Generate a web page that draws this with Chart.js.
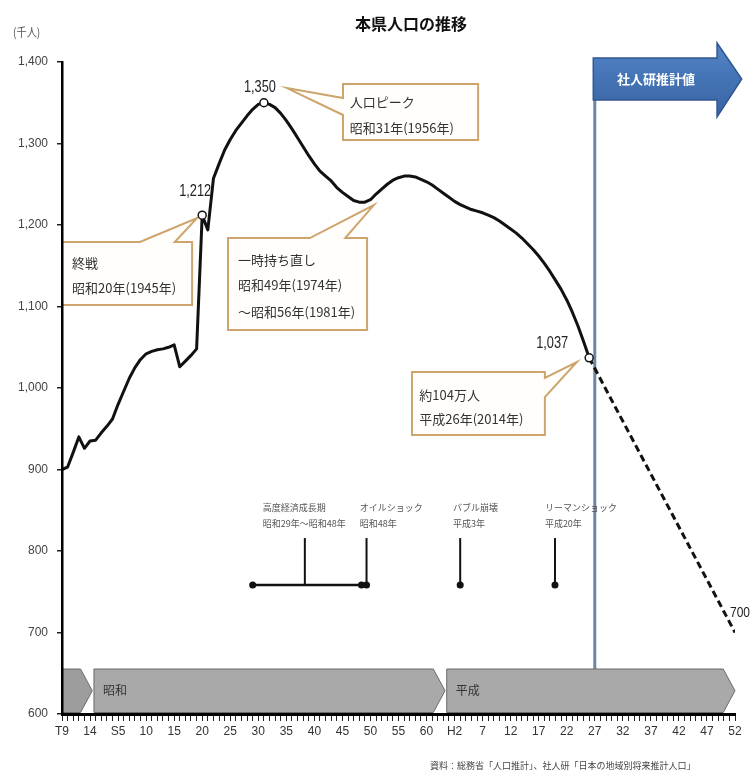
<!DOCTYPE html>
<html lang="ja">
<head>
<meta charset="utf-8">
<title>本県人口の推移</title>
<script src="https://cdn.jsdelivr.net/npm/chart.js@4/dist/chart.umd.min.js"></script>
<style>
  html, body { margin: 0; padding: 0; background: #fff; }
  #wrap { width: 751px; height: 774px; }
  canvas { display: block; background: #fff; }
</style>
</head>
<body>
<div id="wrap"><canvas id="chart" width="751" height="774"></canvas></div>
<script>
// ---------- data (thousand persons) ----------
const years = [
  1920, 1921, 1922, 1923, 1924, 1925, 1926, 1927, 1928, 1929,
  1930, 1931, 1932, 1933, 1934, 1935, 1936, 1937, 1938, 1939,
  1940, 1941, 1942, 1943, 1944, 1945, 1946, 1947, 1948, 1949,
  1950, 1951, 1952, 1953, 1954, 1955, 1956, 1957, 1958, 1959,
  1960, 1961, 1962, 1963, 1964, 1965, 1966, 1967, 1968, 1969,
  1970, 1971, 1972, 1973, 1974, 1975, 1976, 1977, 1978, 1979,
  1980, 1981, 1982, 1983, 1984, 1985, 1986, 1987, 1988, 1989,
  1990, 1991, 1992, 1993, 1994, 1995, 1996, 1997, 1998, 1999,
  2000, 2001, 2002, 2003, 2004, 2005, 2006, 2007, 2008, 2009,
  2010, 2011, 2012, 2013, 2014
];
const population = [
  900, 903, 921, 940, 926, 935, 936, 945, 953, 962,
  980, 996, 1012, 1025, 1035, 1042, 1045, 1047, 1048, 1050,
  1053, 1026, 1033, 1040, 1048, 1212, 1194, 1257, 1275, 1292,
  1305, 1316, 1325, 1334, 1342, 1348, 1350, 1348, 1344, 1337,
  1328, 1318, 1307, 1296, 1285, 1275, 1266, 1260, 1254, 1246,
  1240, 1235, 1230, 1228, 1228, 1231, 1238, 1244, 1250, 1255,
  1258, 1260, 1260, 1259, 1256, 1253, 1249, 1244, 1239, 1234,
  1229, 1225, 1222, 1219, 1217, 1215, 1212, 1209, 1205, 1200,
  1195, 1190, 1184, 1177, 1170, 1162, 1153, 1143, 1132, 1121,
  1108, 1093, 1076, 1057, 1037
];
// projection (社人研推計値)
const projectionYears  = [2014, 2040];
const projectionValues = [1037, 700];
// highlighted points
const markerYears  = [1945, 1956, 2014];
const markerValues = [1212, 1350, 1037];

// axis labels
const xTickLabels = ['T9','14','S5','10','15','20','25','30','35','40','45','50','55','60',
                     'H2','7','12','17','22','27','32','37','42','47','52'];
const yTickLabels = ['600','700','800','900','1,000','1,100','1,200','1,300','1,400'];

// era bands along the bottom
const eraNames = ['', '昭和', '平成'];
const eraStarts = [1920, 1925.7, 1988.6];
const eraEnds   = [1925.4, 1988.3, 2040];

// historical events
const eventTitles = ['高度経済成長期', 'オイルショック', 'バブル崩壊', 'リーマンショック'];
const eventDates  = ['昭和29年～昭和48年', '昭和48年', '平成3年', '平成20年'];
const eventStems  = [1963.3, 1974.3, 1991, 2007.9];
const growthPeriod = [1954, 1973.4];

const projectionStart = 2015;

// ---------- styling ----------
const NARROW = "'Liberation Sans Narrow', 'Liberation Sans', Arial, sans-serif";
const JP = "'Noto Sans CJK JP', 'Noto Sans', sans-serif";

// callout boxes: box [x1, yTop, x2, yBottom] in axis units, pointer from one side to a tip
const callouts = [
  { box: [1970.1, 1373, 1994.2, 1304.3], side: 'left', base: [1355.8, 1335], tip: [1960.1, 1368],
    lines: ['人口ピーク', '昭和31年(1956年)'], tx: 1971.3, ty: [1350.9, 1319] },
  { box: [1920, 1179.1, 1943.2, 1101.8], side: 'top', base: [1933.9, 1940.1], tip: [1944.1, 1208.6],
    lines: ['終戦', '昭和20年(1945年)'], tx: 1921.8, ty: [1153.4, 1122.7] },
  { box: [1949.6, 1184, 1974.4, 1071.2], side: 'top', base: [1964.2, 1970.5], tip: [1975.6, 1224.5],
    lines: ['一時持ち直し', '昭和49年(1974年)', '～昭和56年(1981年)'], tx: 1951.4, ty: [1157, 1126.4, 1093.3] },
  { box: [1982.4, 1019.6, 2006.1, 942.3], side: 'right', base: [1012.3, 988.9], tip: [2011.8, 1031.9],
    lines: ['約104万人', '平成26年(2014年)'], tx: 1983.7, ty: [991.4, 962] }
];

function text(ctx, s, x, y, font, color, align, sx) {
  ctx.save();
  ctx.font = font;
  ctx.fillStyle = color;
  ctx.textAlign = align || 'left';
  ctx.textBaseline = 'middle';
  ctx.translate(x, y);
  ctx.scale(sx || 1, 1);
  ctx.fillText(s, 0, 0);
  ctx.restore();
}

const fmt = v => v.toLocaleString('en-US');

const decor = {
  id: 'decor',
  beforeDatasetsDraw(chart) {
    const ctx = chart.ctx;
    const X = v => chart.scales.x.getPixelForValue(v);
    const Y = v => chart.scales.y.getPixelForValue(v);

    // projection divider line
    const xs = X(projectionStart);
    ctx.save();
    ctx.strokeStyle = '#6d86a5';
    ctx.lineWidth = 3;
    ctx.beginPath();
    ctx.moveTo(xs, Y(1380));
    ctx.lineTo(xs, Y(600));
    ctx.stroke();
    ctx.restore();

    // projection arrow
    const bodyTop = Y(1404.9), bodyBot = Y(1353.4);
    const headTop = Y(1423.3), headBot = Y(1332.5);
    const headX = X(2036.8), tipX = X(2041.2), tipY = (bodyTop + bodyBot) / 2;
    ctx.save();
    const g = ctx.createLinearGradient(0, headTop, 0, headBot);
    g.addColorStop(0, '#5585c6');
    g.addColorStop(0.5, '#4473b5');
    g.addColorStop(1, '#3963a2');
    ctx.fillStyle = g;
    ctx.strokeStyle = '#2f5790';
    ctx.lineWidth = 1.5;
    ctx.beginPath();
    ctx.moveTo(xs - 1.5, bodyTop);
    ctx.lineTo(headX, bodyTop);
    ctx.lineTo(headX, headTop);
    ctx.lineTo(tipX, tipY);
    ctx.lineTo(headX, headBot);
    ctx.lineTo(headX, bodyBot);
    ctx.lineTo(xs - 1.5, bodyBot);
    ctx.closePath();
    ctx.fill();
    ctx.stroke();
    ctx.restore();
    text(ctx, '社人研推計値', (xs + headX) / 2, tipY, 'bold 13px ' + JP, '#ffffff', 'center');

    // era bands
    const bTop = Y(655.2), bBot = Y(600) - 1.5, bMid = (bTop + bBot) / 2;
    for (let i = 0; i < eraNames.length; i++) {
      const l = X(eraStarts[i]), tip = X(eraEnds[i]);
      const corner = tip - (bBot - bTop) * 0.27;
      ctx.save();
      ctx.fillStyle = i === 0 ? '#9d9d9d' : '#a9a9a9';
      ctx.strokeStyle = '#6b6b6b';
      ctx.lineWidth = 1;
      ctx.beginPath();
      ctx.moveTo(l, bTop);
      ctx.lineTo(corner, bTop);
      ctx.lineTo(tip, bMid);
      ctx.lineTo(corner, bBot);
      ctx.lineTo(l, bBot);
      ctx.closePath();
      ctx.fill();
      ctx.stroke();
      ctx.restore();
      if (eraNames[i]) text(ctx, eraNames[i], l + 9, bMid, '12px ' + JP, '#333', 'left');
    }

    // events timeline
    const base = Y(758.3), stemTop = Y(815.9);
    const l1 = Y(852.8), l2 = Y(833.1);
    ctx.save();
    ctx.strokeStyle = '#111';
    ctx.fillStyle = '#111';
    ctx.lineWidth = 2.5;
    ctx.beginPath();
    ctx.moveTo(X(growthPeriod[0]), base);
    ctx.lineTo(X(growthPeriod[1]), base);
    ctx.stroke();
    ctx.lineWidth = 2;
    const dots = [growthPeriod[0], growthPeriod[1]];
    eventStems.forEach((yr, i) => {
      ctx.beginPath();
      ctx.moveTo(X(yr), stemTop);
      ctx.lineTo(X(yr), base);
      ctx.stroke();
      if (i > 0) dots.push(yr);
    });
    dots.forEach(yr => {
      ctx.beginPath();
      ctx.arc(X(yr), base, 3.5, 0, Math.PI * 2);
      ctx.fill();
    });
    ctx.restore();
    const textStarts = [1955.8, 1973.1, 1989.7, 2006.1];
    eventTitles.forEach((t, i) => {
      text(ctx, t, X(textStarts[i]), l1, '9px ' + JP, '#555', 'left');
      text(ctx, eventDates[i], X(textStarts[i]), l2, '9px ' + JP, '#555', 'left');
    });

    // callouts
    callouts.forEach(c => {
      const l = X(c.box[0]), t = Y(c.box[1]), r = X(c.box[2]), b = Y(c.box[3]);
      const tip = [X(c.tip[0]), Y(c.tip[1])];
      ctx.save();
      ctx.fillStyle = '#fffefb';
      ctx.strokeStyle = '#cda46c';
      ctx.lineWidth = 2;
      ctx.beginPath();
      if (c.side === 'top') {
        ctx.moveTo(l, t);
        ctx.lineTo(X(c.base[0]), t);
        ctx.lineTo(tip[0], tip[1]);
        ctx.lineTo(X(c.base[1]), t);
        ctx.lineTo(r, t); ctx.lineTo(r, b); ctx.lineTo(l, b);
      } else if (c.side === 'left') {
        ctx.moveTo(l, t); ctx.lineTo(r, t); ctx.lineTo(r, b); ctx.lineTo(l, b);
        ctx.lineTo(l, Y(c.base[1]));
        ctx.lineTo(tip[0], tip[1]);
        ctx.lineTo(l, Y(c.base[0]));
      } else {
        ctx.moveTo(l, t); ctx.lineTo(r, t);
        ctx.lineTo(r, Y(c.base[0]));
        ctx.lineTo(tip[0], tip[1]);
        ctx.lineTo(r, Y(c.base[1]));
        ctx.lineTo(r, b); ctx.lineTo(l, b);
      }
      ctx.closePath();
      ctx.fill();
      ctx.stroke();
      ctx.restore();
      c.lines.forEach((s, i) => text(ctx, s, X(c.tx), Y(c.ty[i]), '13px ' + JP, '#333', 'left'));
    });
  },
  afterDatasetsDraw(chart) {
    const ctx = chart.ctx;
    const X = v => chart.scales.x.getPixelForValue(v);
    const Y = v => chart.scales.y.getPixelForValue(v);
    const offsets = [[-7, -24], [-4, -15], [-37, -14]];
    markerYears.forEach((yr, i) => {
      text(ctx, fmt(markerValues[i]), X(yr) + offsets[i][0], Y(markerValues[i]) + offsets[i][1],
           '16px ' + NARROW, '#222', 'center', 0.8);
    });
    const last = projectionValues.length - 1;
    text(ctx, fmt(projectionValues[last]), X(projectionYears[last]) + 5, Y(projectionValues[last]) - 20,
         '15px ' + NARROW, '#222', 'center', 0.8);
  },
  afterDraw(chart) {
    const ctx = chart.ctx;
    text(ctx, '本県人口の推移', 411, 24, 'bold 16px ' + JP, '#111', 'center');
    text(ctx, '(千人)', 13, 32, '12px ' + JP, '#555', 'left', 0.85);
    text(ctx, '資料：総務省「人口推計」、社人研「日本の地域別将来推計人口」', 430, 766, '9px ' + JP, '#444', 'left');
  }
};

new Chart(document.getElementById('chart'), {
  type: 'line',
  data: {
    datasets: [
      {
        label: '注記点',
        data: markerYears.map((x, i) => ({ x, y: markerValues[i] })),
        showLine: false,
        pointRadius: 4,
        pointStyle: 'circle',
        pointBackgroundColor: '#ffffff',
        pointBorderColor: '#111',
        pointBorderWidth: 1.5
      },
      {
        label: '総人口',
        data: years.map((x, i) => ({ x, y: population[i] })),
        borderColor: '#111',
        borderWidth: 3,
        pointRadius: 0,
        tension: 0,
        borderJoinStyle: 'round'
      },
      {
        label: '社人研推計値',
        data: projectionYears.map((x, i) => ({ x, y: projectionValues[i] })),
        borderColor: '#111',
        borderWidth: 3,
        borderDash: [7, 4],
        pointRadius: 0
      }
    ]
  },
  options: {
    responsive: false,
    animation: false,
    devicePixelRatio: 1,
    layout: { padding: { top: 62, right: 16, bottom: 0, left: 0 } },
    plugins: {
      legend: { display: false },
      tooltip: { enabled: false },
      title: { display: false }
    },
    scales: {
      x: {
        type: 'linear',
        min: 1920,
        max: 2040,
        afterFit(s) { s.height = 60; },
        grid: { drawOnChartArea: false, drawTicks: true, tickLength: 7, color: '#222', lineWidth: 1 },
        border: { display: true, color: '#000', width: 3, z: 1 },
        ticks: {
          stepSize: 1,
          autoSkip: false,
          maxRotation: 0,
          minRotation: 0,
          padding: 3,
          color: '#333',
          font: { family: NARROW, size: 12 },
          callback: v => {
            const k = Math.round(v) - 1920;
            return k % 5 === 0 ? xTickLabels[k / 5] : '';
          }
        }
      },
      y: {
        type: 'linear',
        min: 600,
        max: 1400,
        afterFit(s) { s.width = 62; },
        grid: { drawOnChartArea: false, drawTicks: true, tickLength: 5, color: '#222', lineWidth: 1.5 },
        border: { display: true, color: '#000', width: 2.5, z: 1 },
        ticks: {
          stepSize: 100,
          padding: 9,
          color: '#444',
          font: { family: NARROW, size: 12 },
          callback: v => yTickLabels[Math.round((v - 600) / 100)]
        }
      }
    }
  },
  plugins: [decor]
});
</script>
</body>
</html>
